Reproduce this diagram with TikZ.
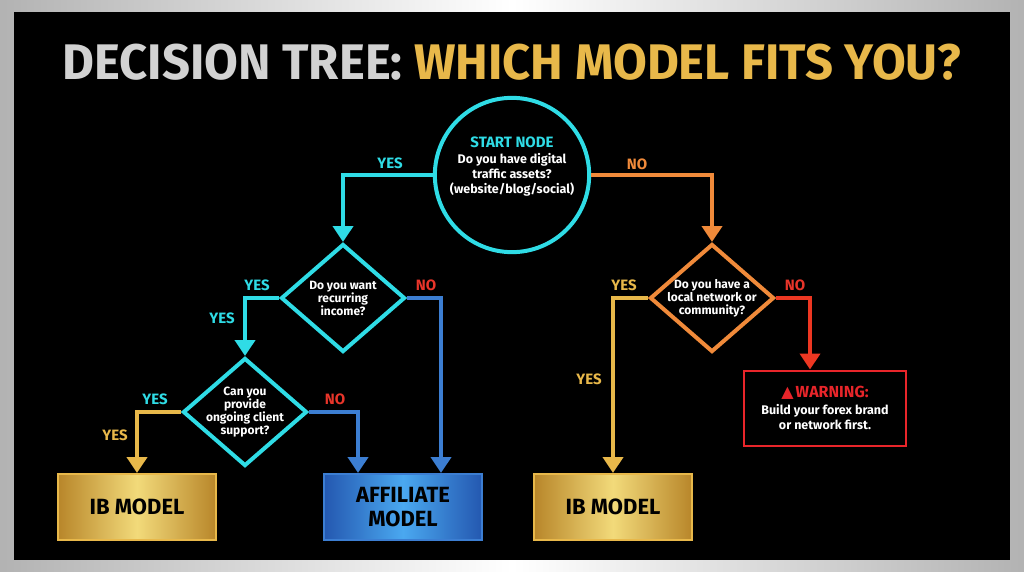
\documentclass[tikz,border=0pt]{standalone}
\usepackage{fontspec}
\setmainfont{Fira Sans}
\newfontfamily\symfont{DejaVu Sans}
\usetikzlibrary{shapes.geometric,arrows.meta,positioning}
\definecolor{cyanline}{HTML}{2FDCE6}
\definecolor{orangeline}{HTML}{F08A3A}
\definecolor{blueline}{HTML}{3C7ED2}
\definecolor{bluedark}{HTML}{2458B0}
\definecolor{bluelight}{HTML}{4AA8F0}
\definecolor{goldline}{HTML}{E8B84A}
\definecolor{redline}{HTML}{E8252A}
\definecolor{nored}{HTML}{E8352A}
\definecolor{golddark}{HTML}{B8862A}
\definecolor{goldlight}{HTML}{F2DA7A}
\tikzstyle{question} = [diamond, draw, line width=4pt, fill=black, text=white,
                        minimum width=124pt, minimum height=108pt, inner sep=-4pt, aspect=1.15,
                        align=center, font=\bfseries\fontsize{12}{13}\selectfont]
\tikzstyle{goldbox}  = [rectangle, draw=goldline, line width=2pt, minimum width=158pt,
                        minimum height=66pt, left color=golddark, right color=golddark,
                        middle color=goldlight, font=\bfseries\fontsize{22}{22}\selectfont,
                        align=center]
\tikzstyle{arrow}    = [line width=4pt, -{Triangle[width=20pt,length=16pt]}]
\tikzstyle{answer}   = [font=\bfseries\fontsize{15}{15}\selectfont]

\begin{document}
\begin{tikzpicture}[x=1pt,y=-1pt]
		\useasboundingbox (0,0) rectangle (1024,572);
		\fill[left color=gray!60,right color=gray!60,middle color=white] (0,0) rectangle (1024,572);
		\fill[black] (14,12) rectangle (1010,560);
		% title
		\node[font=\bfseries\fontsize{50}{50}\selectfont, xscale=0.98] (title) at (512,62)
			{\textcolor{gray!35}{DECISION TREE:} \textcolor{goldline}{WHICH MODEL FITS YOU?}};
		% nodes
		\node[circle, draw=cyanline, line width=4pt, minimum size=148pt, align=center,
			text=white, font=\bfseries\fontsize{12.5}{15}\selectfont] (start) at (512,175)
			{\textcolor{cyanline}{\fontsize{15}{17}\selectfont START NODE}\\[1pt]
			 Do you have digital\\ traffic assets?\\ (website/blog/social)\\[4pt]};
		\node[question, draw=cyanline] (recur) at (343,298) {Do you want\\recurring\\income?};
		\node[question, draw=cyanline] (support) at (245,412) {Can you\\provide\\ongoing client\\support?};
		\node[question, draw=orangeline] (local) at (712,298) {Do you have a\\local network or\\community?};
		\node[goldbox] (ib1) at (137,507) {IB MODEL};
		\node[goldbox] (ib2) at (613,507) {IB MODEL};
		\node[rectangle, draw=blueline, line width=2pt, minimum width=158pt, minimum height=66pt,
			left color=bluedark, right color=bluedark, middle color=bluelight,
			font=\bfseries\fontsize{22}{24}\selectfont, align=center] (affil) at (403,507)
			{AFFILIATE\\MODEL};
		\node[rectangle, draw=redline, line width=2pt, minimum width=162pt, minimum height=75pt,
			fill=black, text=white, align=center, font=\bfseries\fontsize{12.5}{15}\selectfont] (warn) at (825,408)
			{{\color{redline}\symfont\fontsize{16}{16}\selectfont ▲}\,\textcolor{redline}{\fontsize{16}{16}\selectfont WARNING:}\\[2pt]
			 Build your forex brand\\or network first.};
		% connectors
		\draw[arrow, cyanline] (start.west) -| (recur.north);
		\draw[arrow, orangeline] (start.east) -| (local.north);
		\draw[arrow, cyanline] (recur.west) -| (support.north);
		\draw[arrow, blueline] (recur.east) -| (affil.north -| 441,0);
		\draw[arrow, goldline] (support.west) -| (ib1.north);
		\draw[arrow, blueline] (support.east) -| (affil.north -| 358,0);
		\draw[arrow, goldline] (local.west) -| (ib2.north);
		\draw[arrow, redline!80!orange] (local.east) -| (warn.north -| 810,0);
		% labels
		\node[answer, text=cyanline] (y1) at (390,163) {YES};
		\node[answer, text=orangeline] (n1) at (637,164) {NO};
		\node[answer, text=cyanline] (y2) at (257,285) {YES};
		\node[answer, text=cyanline] (y3) at (222,318) {YES};
		\node[answer, text=nored] (n2) at (426,285) {NO};
		\node[answer, text=cyanline] (y4) at (155,399) {YES};
		\node[answer, text=goldline] (y5) at (115,435) {YES};
		\node[answer, text=nored] (n3) at (335,399) {NO};
		\node[answer, text=goldline] (y6) at (624,285) {YES};
		\node[answer, text=goldline] (y7) at (589,379) {YES};
		\node[answer, text=nored] (n4) at (795,285) {NO};
	\end{tikzpicture}
\end{document}
